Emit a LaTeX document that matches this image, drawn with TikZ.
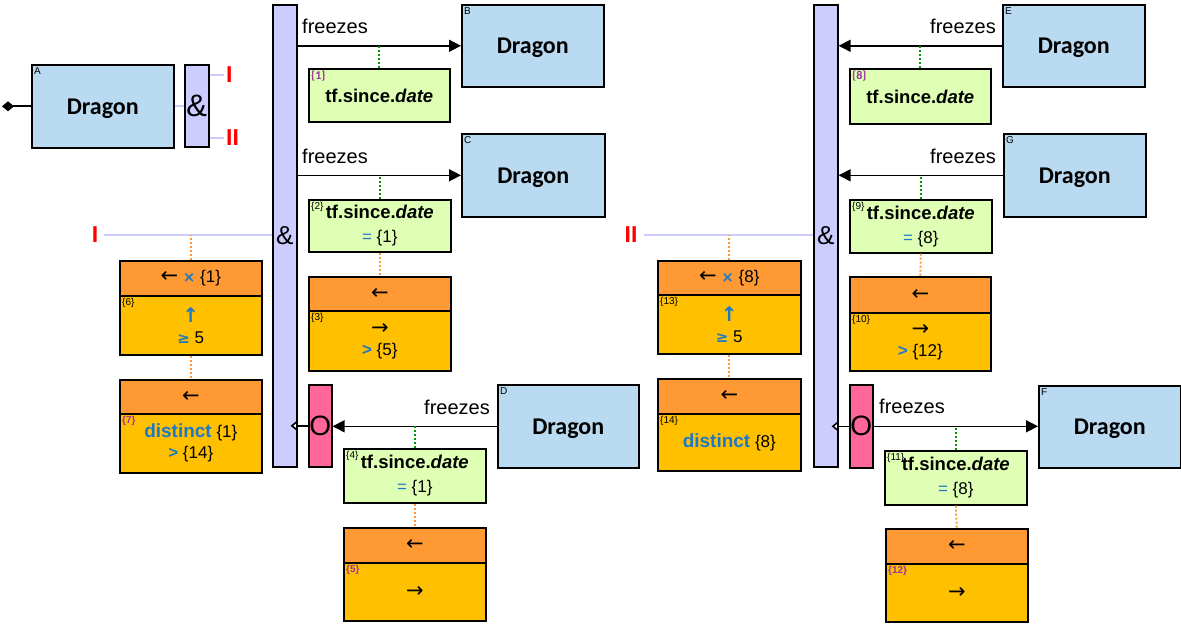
\documentclass[tikz,border=0pt]{standalone}
\usepackage{fontspec}
\setmainfont{Carlito}
\newfontfamily\arial{Liberation Sans}
\newfontfamily\dejavu{DejaVu Sans}
\newfontfamily\dejavub{DejaVu Sans Bold}
\usetikzlibrary{arrows.meta}
\definecolor{dblue}{RGB}{185,218,240}
\definecolor{tfgreen}{RGB}{222,255,180}
\definecolor{oporange}{RGB}{255,153,51}
\definecolor{opgold}{RGB}{255,192,0}
\definecolor{barlav}{RGB}{204,204,255}
\definecolor{opink}{RGB}{255,102,153}
\definecolor{tblue}{RGB}{30,120,200}
\definecolor{tpurple}{RGB}{153,51,153}
\definecolor{dotgreen}{RGB}{0,150,0}
\definecolor{dotorange}{RGB}{255,153,51}
\definecolor{redlab}{RGB}{255,0,0}
\newcommand\fDragon{\bfseries\fontsize{24}{28}\selectfont}
\newcommand\fTf{\bfseries\fontsize{18.5}{24}\selectfont}
\newcommand\fAr{\arial\fontsize{17}{21}\selectfont}
\newcommand\fDist{\bfseries\fontsize{19}{22}\selectfont}
\newcommand\myla{{\dejavu\fontsize{21}{20}\selectfont ←}}
\newcommand\myra{{\dejavu\fontsize{21}{20}\selectfont →}}
\newcommand\myua{{\dejavub\fontsize{20}{20}\selectfont\textcolor{tblue}{↑}}}
\newcommand\mytimes{{\dejavub\fontsize{15}{20}\selectfont\textcolor{tblue}{×}}}
\newcommand\myge{{\dejavub\fontsize{15}{20}\selectfont\textcolor{tblue}{≥}}}
\newcommand\mygt{{\arial\bfseries\textcolor{tblue}{>}}}
\newcommand\myeq{\textcolor{tblue}{=}}
\newcommand\tfd{{\fTf tf.since.\textit{date}}}
\begin{document}
\begin{tikzpicture}[x=1pt,y=-1pt,
  box/.style={draw=black, line width=1.6pt, inner sep=0pt, anchor=north west, align=center},
  dragon/.style={box, fill=dblue, minimum width=142pt, minimum height=82pt, text depth=0pt, font=\fDragon},
  tfbox/.style={box, fill=tfgreen, minimum width=142pt, font=\arial\fontsize{17}{24}\selectfont},
  optop/.style={box, fill=oporange, minimum width=142pt, minimum height=35pt, font=\fAr},
  opbot/.style={box, fill=opgold, minimum width=142pt, font=\arial\fontsize{17}{21}\selectfont},
  bar/.style={box, fill=barlav, minimum width=24pt, font=\arial\fontsize{26}{30}\selectfont},
  obar/.style={box, fill=opink, minimum width=23pt, minimum height=82pt, font=\arial\fontsize{28}{30}\selectfont},
  tag/.style={anchor=north west, inner sep=3pt, font=\arial\fontsize{10}{10}\selectfont},
  ptag/.style={anchor=north west, inner sep=3pt, text=tpurple, font=\bfseries\fontsize{12}{12}\selectfont},
  redl/.style={text=redlab, inner sep=2pt, font=\arial\bfseries\fontsize{23}{26}\selectfont},
  frz/.style={inner sep=0pt, font=\arial\fontsize{20}{24}\selectfont},
  arr/.style={line width=1.6pt, -{Triangle[length=12pt,width=12pt]}},
  oarr/.style={line width=1.6pt, -{Triangle[open,length=7pt,width=11pt,fill=white]}, shorten >=-7pt},
  lav/.style={draw=barlav, line width=2pt},
  gdot/.style={draw=dotgreen, line width=2pt, dash pattern=on 2pt off 2pt},
  odot/.style={draw=dotorange, line width=2pt, dash pattern=on 2pt off 2pt}
]
\useasboundingbox (0,0) rectangle (1181,624);

% ---------- top-left: A and its split ----------
\node[dragon, minimum height=83pt, label={[tag]north west:A}] (A) at (31,64) {Dragon};
\node[bar, minimum height=82pt, font=\arial\fontsize{31}{34}\selectfont] (amp0) at (184,64) {\&};
\node[redl, anchor=west] (lI) at (224,75) {I};
\node[redl, anchor=west] (lII) at (224,138) {II};
\coordinate (dstart) at ([xshift=-29pt]A.west);
\draw[line width=1.8pt, {Diamond[length=12pt,width=10pt]}-] (dstart) -- (A.west);
\draw[lav] (A.east) -- (amp0.west |- A.east);
\draw[lav] (amp0.east |- lI) -- (lI.west);
\draw[lav] (amp0.east |- lII) -- (lII.west);

% ---------- branch I ----------
\node[bar, minimum height=462pt] (bar1) at (272,4) {\&};
\node[redl] (lI2) at (95,235) {I};
\draw[lav] ([xshift=4pt]lI2.east) -- (bar1.west |- lI2);

\node[dragon, label={[tag]north west:B}] (B) at (461,4) {Dragon};
\draw[arr] (bar1.east |- B.west) -- (B.west);
\node[frz, anchor=base west] (fzB) at (302,33) {freezes};
\node[tfbox, minimum width=141pt, minimum height=53pt, label={[ptag]north west:\{1\}}] (g1) at (308,68) {\rule{0pt}{14pt}\tfd};
\draw[gdot] (g1.north) -- (g1.north |- B.west);

\node[dragon, minimum width=143pt, minimum height=83pt, label={[tag]north west:C}] (C) at (461,133) {Dragon};
\draw[arr] (bar1.east |- C.west) -- (C.west);
\node[frz, anchor=base west] (fzC) at (302,163) {freezes};
\node[tfbox, minimum height=52pt, label={[tag]north west:\{2\}}] (g2) at (308,199) {\tfd\\\myeq\ \{1\}};
\draw[gdot] (g2.north) -- (g2.north |- C.west);
\node[optop, minimum height=34pt] (o3t) at (308,276) {\myla};
\node[opbot, minimum height=60pt, label={[tag]north west:\{3\}}] (o3b) at (308,310) {\myra\\\mygt\ \{5\}};
\draw[odot] (g2.south) -- (o3t.north);

\node[optop] (o6t) at (119,260) {\myla\ \mytimes\ \{1\}};
\node[opbot, minimum height=59pt, label={[tag]north west:\{6\}}] (o6b) at (119,295) {\myua\\\myge\ 5};
\draw[odot] (o6t.north) -- (o6t.north |- lI2);
\node[optop, minimum height=34pt] (o7t) at (119,379) {\myla};
\node[opbot, minimum height=59pt, label={[ptag, font=\arial\bfseries\fontsize{10}{10}\selectfont]north west:\{7\}}] (o7b) at (119,413) {{\fDist\textcolor{tblue}{distinct}} \{1\}\\\mygt\ \{14\}};
\draw[odot] (o6b.south) -- (o7t.north);

\node[obar] (O1) at (308,384) {O};
\node[dragon, minimum width=141pt, minimum height=83pt, label={[tag]north west:D}] (D) at (497,384) {Dragon};
\draw[arr] (D.west) -- (O1.east |- D.west);
\node[frz, anchor=base east] (fzD) at (490,414) {freezes};
\draw[oarr] (O1.west) -- (bar1.east |- O1.west);
\node[tfbox, minimum height=54pt, label={[tag]north west:\{4\}}] (g4) at (343,448) {\tfd\\\myeq\ \{1\}};
\draw[gdot] (g4.north) -- (g4.north |- D.west);
\node[optop] (o5t) at (343,527) {\myla};
\node[opbot, minimum height=58pt, label={[ptag, font=\arial\bfseries\fontsize{10}{10}\selectfont]north west:\{5\}}] (o5b) at (343,562) {\myra};
\draw[odot] (g4.south) -- (o5t.north);

% ---------- branch II ----------
\node[bar, minimum height=462pt] (bar2) at (813,4) {\&};
\node[redl] (lII2) at (631,235) {II};
\draw[lav] ([xshift=4pt]lII2.east) -- (bar2.west |- lII2);

\node[dragon, label={[tag]north west:E}] (E) at (1002,4) {Dragon};
\draw[arr] (E.west) -- (bar2.east |- E.west);
\node[frz, anchor=base east] (fzE) at (996,33) {freezes};
\node[tfbox, minimum width=141pt, minimum height=55pt, label={[ptag]north west:\{8\}}] (g8) at (849,68) {\rule{0pt}{14pt}\tfd};
\draw[gdot] (g8.north) -- (g8.north |- E.west);

\node[dragon, minimum height=83pt, label={[tag]north west:G}] (G) at (1003,133) {Dragon};
\draw[arr] (G.west) -- (bar2.east |- G.west);
\node[frz, anchor=base east] (fzG) at (996,163) {freezes};
\node[tfbox, minimum height=53pt, label={[tag]north west:\{9\}}] (g9) at (849,199) {\tfd\\\myeq\ \{8\}};
\draw[gdot] (g9.north) -- (g9.north |- G.west);
\node[optop, minimum width=141pt, minimum height=36pt] (o10t) at (849,276) {\myla};
\node[opbot, minimum width=141pt, minimum height=58pt, label={[tag]north west:\{10\}}] (o10b) at (849,312) {\myra\\\mygt\ \{12\}};
\draw[odot] (g9.south) -- (o10t.north);

\node[optop, minimum width=143pt, minimum height=34pt] (o13t) at (657,260) {\myla\ \mytimes\ \{8\}};
\node[opbot, minimum width=143pt, minimum height=59pt, label={[tag]north west:\{13\}}] (o13b) at (657,294) {\myua\\\myge\ 5};
\draw[odot] (o13t.north) -- (o13t.north |- lII2);
\node[optop, minimum width=143pt] (o14t) at (657,378) {\myla};
\node[opbot, minimum width=143pt, minimum height=57pt, label={[tag]north west:\{14\}}] (o14b) at (657,413) {{\fDist\textcolor{tblue}{distinct}} \{8\}};
\draw[odot] (o13b.south) -- (o14t.north);

\node[obar, minimum height=83pt] (O2) at (849,384) {O};
\node[dragon, label={[tag]north west:F}] (F) at (1038,385) {Dragon};
\draw[arr] (O2.east) -- (F.west |- O2.east);
\node[frz, anchor=base west] (fzF) at (879,413) {freezes};
\draw[oarr] (O2.west) -- (bar2.east |- O2.west);
\node[tfbox, minimum height=54pt, label={[tag]north west:\{11\}}] (g11) at (884,450) {\tfd\\\myeq\ \{8\}};
\draw[gdot] (g11.north) -- (g11.north |- O2.east);
\node[optop] (o12t) at (885,528) {\myla};
\node[opbot, minimum height=58pt, label={[ptag, font=\arial\bfseries\fontsize{10}{10}\selectfont]north west:\{12\}}] (o12b) at (885,563) {\myra};
\draw[odot] (g11.south) -- (o12t.north);
\end{tikzpicture}
\end{document}
